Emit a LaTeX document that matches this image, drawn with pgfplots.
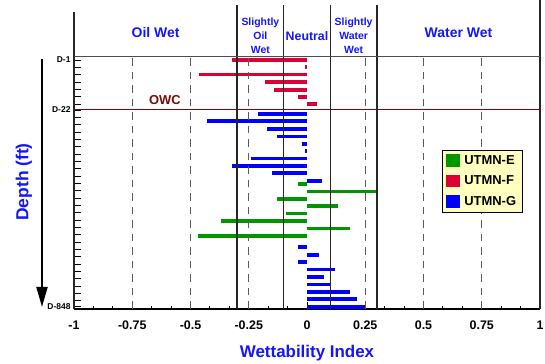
\documentclass[border=0pt]{standalone}
\usepackage{pgfplots}
\pgfplotsset{compat=1.18}
\usepackage{fontspec}
\setmainfont{Liberation Sans}
\usetikzlibrary{arrows.meta}
\definecolor{cE}{RGB}{0,150,0}
\definecolor{cF}{RGB}{220,0,55}
\definecolor{cG}{RGB}{0,0,255}
\definecolor{hdr}{RGB}{20,20,255}
\definecolor{owc}{RGB}{120,10,10}
\definecolor{legbg}{RGB}{255,255,192}
\definecolor{dashc}{RGB}{90,90,90}
\newcommand{\fs}[1]{\fontsize{#1}{#1}\selectfont\bfseries}
\begin{document}
\begin{tikzpicture}
\useasboundingbox (0,0) rectangle (545bp,364bp);
\begin{axis}[
  at={(74bp,55bp)}, anchor=south west,
  scale only axis, width=466bp, height=304bp,
  xmin=-1, xmax=1, ymin=55, ymax=359,
  axis x line*=bottom, axis y line*=left,
  y axis line style={draw=none},
  x axis line style={line width=1.2bp},
  xtick={-1,-0.75,-0.5,-0.25,0,0.25,0.5,0.75,1},
  xticklabels={-1,-0.75,-0.5,-0.25,0,0.25,0.5,0.75,1},
  minor x tick num=2,
  tick align=inside,
  major tick length=6.5bp, minor tick length=3bp,
  tick style={black, line width=0.9bp},
  xticklabel style={font=\fs{12.5}, yshift=-8bp},
  ytick={304,254,57.3},
  yticklabels={D-1,D-22,D-848},
  extra y ticks={296.7,289.3,282,274.7,267.3,260,246.7,239.3,232,224.7,217.3,210,202.7,195.3,188,180.7,173.3,166,158.7,151.3,144,136.7,129.3,122,114.7,107.3,100,92.7,85.3,78,70.7,63.3},
  extra y tick labels={},
  yticklabel style={font=\fs{8.5}},
  xlabel={Wettability Index},
  xlabel style={at={(axis cs:0,11)}, anchor=center, font=\fs{17}, color=hdr},
  ylabel={Depth (ft)},
  ylabel style={at={(axis cs:-1.215,182)}, anchor=center, font=\fs{17.5}, color=hdr},
  clip=false,
  legend style={at={(axis cs:0.58,213.5)}, anchor=north west, fill=legbg, draw=black,
    font=\fs{13}, inner xsep=4bp, inner ysep=3bp, row sep=6bp, column sep=2bp, cells={anchor=west}},
  legend image code/.code={\fill[#1,draw=none] (0bp,-6bp) rectangle (14bp,6.5bp);},
]
% UTMN-E
\addplot[xcomb, cE, line width=3.6bp] coordinates {
(-0.04,180) (0.305,172.3) (-0.129,165) (0.133,157.7) (-0.089,150.3) (-0.37,142.7) (0.183,135.3) (-0.469,128)};
\addlegendentry{UTMN-E}
% UTMN-F
\addplot[xcomb, cF, line width=3.6bp] coordinates {
(-0.322,304) (-0.01,296.7) (-0.462,289.3) (-0.182,281.7) (-0.14,274) (-0.04,266.7) (0.043,259.7)};
\addlegendentry{UTMN-F}
% UTMN-G
\addplot[xcomb, cG, line width=3.6bp] coordinates {
(-0.21,250) (-0.43,242.7) (-0.17,235) (-0.129,227.3) (-0.021,220) (-0.01,213) (-0.24,205.3) (-0.322,197.7) (-0.15,190.7) (0.064,183)
(-0.04,116.7) (0.053,109) (-0.04,101.7) (0.122,94.3) (0.073,86.7) (0.104,79.3) (0.183,72) (0.215,64.7) (0.25,57.3)};
\addlegendentry{UTMN-G}
% dashed guide lines
\pgfplotsinvokeforeach{-0.75,-0.5,-0.25,0.25,0.5,0.75}{
  \draw[dashc, line width=1.4bp, dash pattern=on 7.5bp off 6bp] (axis cs:#1,55) -- (axis cs:#1,307);
}
% region boundaries
\pgfplotsinvokeforeach{-0.3,-0.1,0.1,0.3}{
  \draw[black!85, line width=1.4bp] (axis cs:#1,55) -- (axis cs:#1,359);
}
\draw[black!85, line width=1.8bp] (axis cs:-1,55) -- (axis cs:-1,352);
\draw[black!85, line width=2.2bp] (axis cs:1,55) -- (axis cs:1,364);
\draw[black!70, line width=1bp] (axis cs:-1,307) -- (axis cs:1,307);
\draw[owc, line width=1.2bp] (axis cs:-1,254.5) -- (axis cs:1,254.5);
% header texts
\node[hdr, font=\fs{14}] at (axis cs:-0.65,331) {Oil Wet};
\node[hdr, font=\fs{14}] at (axis cs:0.65,331) {Water Wet};
\node[hdr, font=\fs{12.4}] at (axis cs:0,328.3) {Neutral};
\node[hdr, align=center, font=\fontsize{10.5}{13.8}\selectfont\bfseries] at (axis cs:-0.2,328.3) {Slightly\\Oil\\Wet};
\node[hdr, align=center, font=\fontsize{10.5}{13.8}\selectfont\bfseries] at (axis cs:0.2,328.3) {Slightly\\Water\\Wet};
\node[owc, font=\fs{13}] at (axis cs:-0.61,264) {OWC};
\end{axis}
\draw[line width=2bp, -{Triangle[length=20bp,width=11bp]}] (42bp,305bp) -- (42bp,57bp);
\end{tikzpicture}
\end{document}
